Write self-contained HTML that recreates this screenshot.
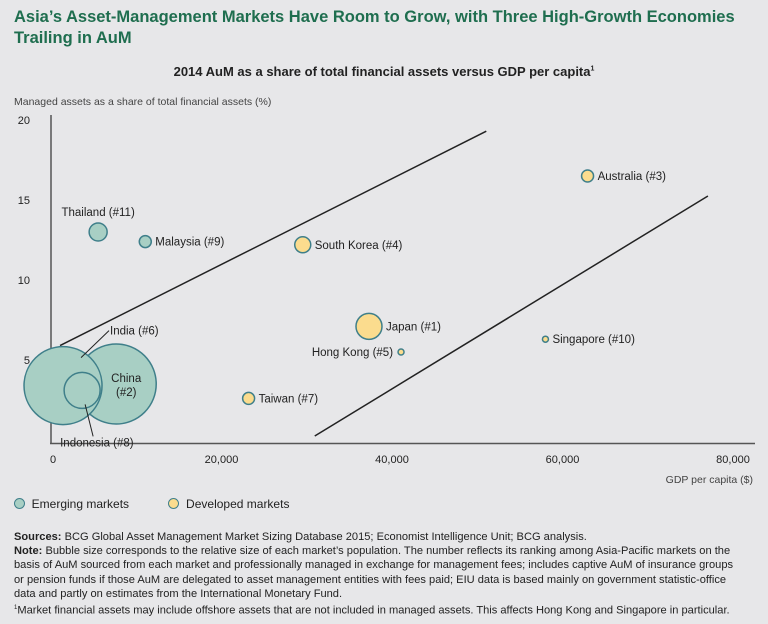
<!DOCTYPE html>
<html><head><meta charset="utf-8"><style>
body{margin:0;width:768px;height:624px;background:#e7e7e9;font-family:"Liberation Sans",sans-serif;overflow:hidden;position:relative;color:#222}
.t{position:absolute;white-space:nowrap}
</style></head><body>
<div class="t" style="left:14px;top:7px;font-size:16.5px;font-weight:bold;color:#1f6e4f;line-height:21px">Asia’s Asset-Management Markets Have Room to Grow, with Three High-Growth Economies<br>Trailing in AuM</div>
<div class="t" style="left:0;width:768px;text-align:center;top:64px;font-size:13px;font-weight:bold">2014 AuM as a share of total financial assets versus GDP per capita<sup style="font-size:7px">1</sup></div>
<div class="t" style="left:14px;top:96px;font-size:10.5px;color:#444">Managed assets as a share of total financial assets (%)</div>
<div class="t" style="right:15px;top:474px;font-size:10.5px;color:#444">GDP per capita ($)</div>
<svg id="chart" width="768" height="624" style="position:absolute;left:0;top:0"></svg>
<div class="t" style="left:14px;top:497px;font-size:12px">
<span><span style="display:inline-block;width:9px;height:9px;border-radius:50%;background:#a8cfc4;border:1px solid #3f7f8a;vertical-align:-1px"></span>&nbsp; Emerging markets</span>
<span style="margin-left:36px"><span style="display:inline-block;width:9px;height:9px;border-radius:50%;background:#fbdc8e;border:1px solid #3f7f8a;vertical-align:-1px"></span>&nbsp; Developed markets</span></div>
<div class="t" style="left:14px;top:530px;font-size:11.1px;line-height:14.2px;color:#222">
<b>Sources:</b> BCG Global Asset Management Market Sizing Database 2015; Economist Intelligence Unit; BCG analysis.<br>
<b>Note:</b> Bubble size corresponds to the relative size of each market’s population. The number reflects its ranking among Asia-Pacific markets on the<br>basis of AuM sourced from each market and professionally managed in exchange for management fees; includes captive AuM of insurance groups<br>or pension funds if those AuM are delegated to asset management entities with fees paid; EIU data is based mainly on government statistic-office<br>data and partly on estimates from the International Monetary Fund.<br>
<sup style="font-size:6px">1</sup>Market financial assets may include offshore assets that are not included in managed assets. This affects Hong Kong and Singapore in particular.</div>
<script>
const names=["India (#6)","China (#2)","Indonesia (#8)","Thailand (#11)","Malaysia (#9)","South Korea (#4)","Japan (#1)","Hong Kong (#5)","Singapore (#10)","Australia (#3)","Taiwan (#7)"];
const gdp=[1410,7650,3650,5530,11060,29530,37300,41060,58000,62940,23180];
const share=[3.4,3.5,3.1,13.0,12.4,12.2,7.1,5.5,6.3,16.5,2.6];
const radius=[39,40,18,9,6,8,13,3,3,6,6];
const emerging=[1,1,1,1,1,0,0,0,0,0,0];
const xTicks=[0,20000,40000,60000,80000];
const xTickLabels=["0","20,000","40,000","60,000","80,000"];
const yTicks=[5,10,15,20];
const upperLineX=[1060,51060],upperLineY=[5.9,19.3];
const lowerLineX=[30940,77060],lowerLineY=[0.25,15.25];
const X=v=>51+v*170.5/20000, Y=v=>440-v*16;
const svg=document.getElementById('chart'),NS="http://www.w3.org/2000/svg";
function mk(t,a,txt){const e=document.createElementNS(NS,t);for(const k in a)e.setAttribute(k,a[k]);if(txt!=null)e.textContent=txt;svg.appendChild(e);return e;}
let e=mk('line',{x1:51,y1:115,x2:51,y2:444,stroke:'#555','stroke-width':1.5});

e=mk('line',{x1:50,y1:443.5,x2:755,y2:443.5,stroke:'#555','stroke-width':1.5});

xTicks.forEach((v,i)=>{const t=mk('text',{x:X(v)+(i==0?2:0),y:463,'font-size':11,'text-anchor':'middle',fill:'#222'},xTickLabels[i]);
});
yTicks.forEach(v=>{const t=mk('text',{x:30,y:Y(v)+4,'font-size':11,'text-anchor':'end',fill:'#222'},String(v));
});
e=mk('line',{x1:X(upperLineX[0]),y1:Y(upperLineY[0]),x2:X(upperLineX[1]),y2:Y(upperLineY[1]),stroke:'#222','stroke-width':1.5});

e=mk('line',{x1:X(lowerLineX[0]),y1:Y(lowerLineY[0]),x2:X(lowerLineX[1]),y2:Y(lowerLineY[1]),stroke:'#222','stroke-width':1.5});

const order=[1,0,2,3,4,5,6,7,8,9,10];
order.forEach(i=>{const c=mk('circle',{cx:X(gdp[i]),cy:Y(share[i]),r:radius[i],fill:emerging[i]?'#a8cfc4':'#fbdc8e',stroke:'#3f7f8a','stroke-width':1.5});

});
function lab(i,dx,dy,anchor){const t=mk('text',{x:X(gdp[i])+dx,y:Y(share[i])+dy,'font-size':11.5,'text-anchor':anchor||'start',fill:'#222'},names[i]);
}
lab(3,0,-16,'middle');lab(4,10,4);lab(5,12,4);lab(6,17,4);lab(7,-8,4,'end');lab(8,7,4);lab(9,10,4);lab(10,10,4);
lab(0,47,-51);lab(2,-22,56);
let t=mk('text',{x:X(gdp[1])+10,y:Y(share[1])-2,'font-size':11.5,'text-anchor':'middle',fill:'#222'},'China');

t=mk('text',{x:X(gdp[1])+10,y:Y(share[1])+12,'font-size':11.5,'text-anchor':'middle',fill:'#222'},'(#2)');

e=mk('line',{x1:X(gdp[0])+46,y1:Y(share[0])-55,x2:X(gdp[0])+18,y2:Y(share[0])-28,stroke:'#222','stroke-width':1});

e=mk('line',{x1:X(gdp[2])+11,y1:Y(share[2])+46,x2:X(gdp[2])+3,y2:Y(share[2])+14,stroke:'#222','stroke-width':1});

</script>
</body></html>
